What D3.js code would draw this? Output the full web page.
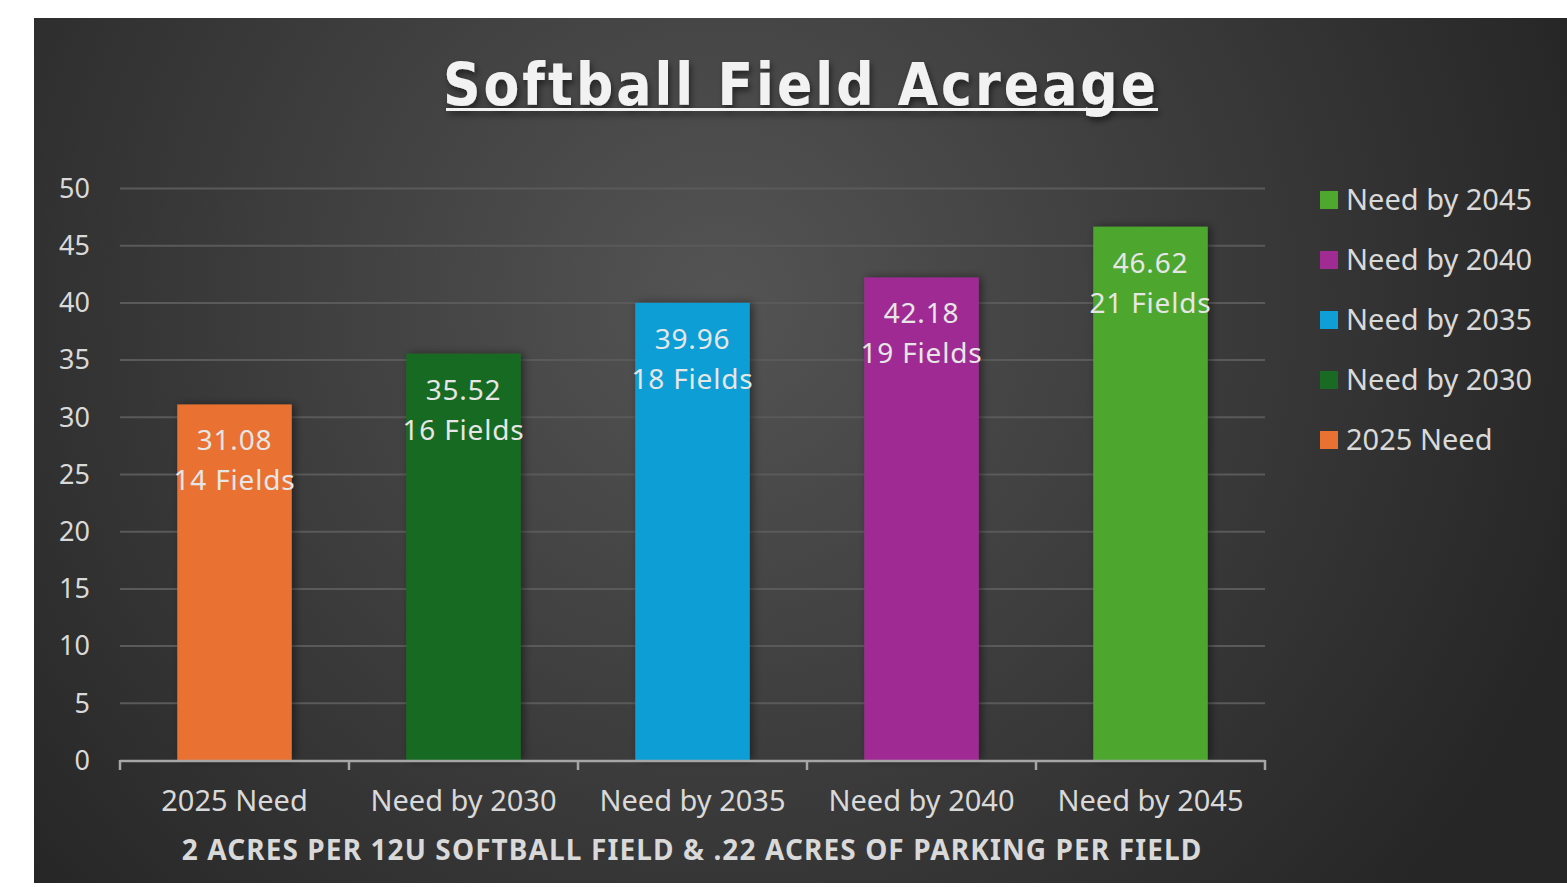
<!DOCTYPE html>
<html>
<head>
<meta charset="utf-8">
<script src="https://cdn.jsdelivr.net/npm/d3@7"></script>
<style>
  body { margin: 0; background: #ffffff; }
  svg { display: block; }
  text { font-family: "Noto Sans", "Open Sans", sans-serif; }
</style>
</head>
<body>
<div id="chart"></div>
<script>
// chart data
const categories = ["2025 Need", "Need by 2030", "Need by 2035", "Need by 2040", "Need by 2045"];
const acres = [31.08, 35.52, 39.96, 42.18, 46.62];
const fields = ["14 Fields", "16 Fields", "18 Fields", "19 Fields", "21 Fields"];
const barColors = ["#E97132", "#196B24", "#0F9ED5", "#A02B93", "#4EA72E"];
const yTicks = [0, 5, 10, 15, 20, 25, 30, 35, 40, 45, 50];

const W = 1567, H = 887;
const svg = d3.select("#chart").append("svg")
    .attr("width", W)
    .attr("height", H);

const defs = svg.append("defs");
const grad = defs.append("radialGradient")
    .attr("id", "bg")
    .attr("gradientUnits", "userSpaceOnUse")
    .attr("cx", 720).attr("cy", 300).attr("r", 900);
grad.append("stop").attr("offset", "0%").attr("stop-color", "#545454");
grad.append("stop").attr("offset", "100%").attr("stop-color", "#262626");

const shadow = defs.append("filter").attr("id", "shadow")
    .attr("x", "-20%").attr("y", "-20%").attr("width", "140%").attr("height", "140%");
shadow.append("feDropShadow")
    .attr("dx", 3).attr("dy", 0).attr("stdDeviation", 4)
    .attr("flood-color", "#000").attr("flood-opacity", 0.45);

const tshadow = defs.append("filter").attr("id", "tshadow")
    .attr("x", "-10%").attr("y", "-30%").attr("width", "120%").attr("height", "160%");
tshadow.append("feDropShadow")
    .attr("dx", 2).attr("dy", 4).attr("stdDeviation", 3)
    .attr("flood-color", "#000").attr("flood-opacity", 0.5);

// panel
svg.append("rect")
    .attr("x", 34).attr("y", 18)
    .attr("width", W - 34).attr("height", 865)
    .attr("fill", "url(#bg)");

// title
const title = svg.append("g").attr("filter", "url(#tshadow)");
title.append("text")
    .attr("x", 801).attr("y", 105)
    .attr("text-anchor", "middle")
    .attr("fill", "#f2f2f2")
    .style("font-family", "'DejaVu Sans Condensed', 'DejaVu Sans', sans-serif")
    .style("font-weight", "bold")
    .style("font-size", "58px")
    .style("letter-spacing", "3px")
    .text("Softball Field Acreage");
title.append("rect")
    .attr("x", 446).attr("y", 108)
    .attr("width", 712).attr("height", 3)
    .attr("fill", "#f2f2f2");

const margin = {top: 188, left: 120, right: W - 1265, bottom: H - 760};
const x = d3.scaleBand()
    .domain(categories)
    .range([margin.left, W - margin.right])
    .paddingInner(0.5)
    .paddingOuter(0.25);
const y = d3.scaleLinear()
    .domain([0, 50])
    .range([760, 188]);

// gridlines
svg.append("g")
    .attr("transform", "translate(" + margin.left + ",0)")
    .call(d3.axisLeft(y).tickValues(yTicks.slice(1)).tickSize(-(1265 - margin.left)).tickFormat(""))
    .call(g => g.select(".domain").remove())
    .call(g => g.selectAll("line").attr("stroke", "#5a5a5a").attr("stroke-width", 2));

// y tick labels
svg.append("g")
    .selectAll("text")
    .data(yTicks)
    .join("text")
    .attr("x", 90)
    .attr("y", d => y(d))
    .attr("dy", "0.36em")
    .attr("text-anchor", "end")
    .attr("fill", "#d9d9d9")
    .style("font-size", "27px")
    .text(d => d);

// bars
svg.append("g")
    .attr("filter", "url(#shadow)")
    .selectAll("rect")
    .data(acres)
    .join("rect")
    .attr("x", (d, i) => x(categories[i]))
    .attr("y", d => y(d))
    .attr("width", x.bandwidth())
    .attr("height", d => y(0) - y(d))
    .attr("fill", (d, i) => barColors[i]);

// x axis with band-boundary ticks
const bounds = d3.range(categories.length + 1).map(i => margin.left + i * (1265 - margin.left) / categories.length);
const xAxis = svg.append("g");
xAxis.append("line")
    .attr("x1", margin.left).attr("x2", 1265)
    .attr("y1", 761).attr("y2", 761)
    .attr("stroke", "#a6a6a6").attr("stroke-width", 2.5);
xAxis.selectAll(".tk")
    .data(bounds)
    .join("line")
    .attr("class", "tk")
    .attr("x1", d => d).attr("x2", d => d)
    .attr("y1", 760).attr("y2", 770)
    .attr("stroke", "#a6a6a6").attr("stroke-width", 2.5);

xAxis.selectAll(".lbl")
    .data(categories)
    .join("text")
    .attr("class", "lbl")
    .attr("x", d => x(d) + x.bandwidth() / 2)
    .attr("y", 811)
    .attr("text-anchor", "middle")
    .attr("fill", "#d9d9d9")
    .style("font-size", "29px")
    .text(d => d);

// axis title
svg.append("text")
    .attr("x", 692).attr("y", 860)
    .attr("text-anchor", "middle")
    .attr("fill", "#d9d9d9")
    .style("font-weight", "bold")
    .style("font-size", "28px")
    .style("letter-spacing", "1.1px")
    .text("2 ACRES PER 12U SOFTBALL FIELD & .22 ACRES OF PARKING PER FIELD");

// data labels
const lbls = svg.append("g").selectAll("g")
    .data(acres)
    .join("g")
    .attr("transform", (d, i) => "translate(" + (x(categories[i]) + x.bandwidth() / 2) + "," + y(d) + ")");
lbls.append("text")
    .attr("y", 46)
    .attr("text-anchor", "middle")
    .attr("fill", "#e6e6e6")
    .style("font-size", "28px")
    .style("letter-spacing", "0.8px")
    .text(d => d.toFixed(2));
lbls.append("text")
    .attr("y", 86)
    .attr("text-anchor", "middle")
    .attr("fill", "#e6e6e6")
    .style("font-size", "28px")
    .style("letter-spacing", "0.8px")
    .text((d, i) => fields[i]);

// legend (reverse order)
const legendItems = categories.map((c, i) => ({name: c, color: barColors[i]})).reverse();
const legend = svg.append("g")
    .selectAll("g")
    .data(legendItems)
    .join("g")
    .attr("transform", (d, i) => "translate(1320," + (200 + i * 60) + ")");
legend.append("rect")
    .attr("x", 0).attr("y", -9)
    .attr("width", 18).attr("height", 18)
    .attr("fill", d => d.color);
legend.append("text")
    .attr("x", 26)
    .attr("dy", "0.36em")
    .attr("fill", "#d9d9d9")
    .style("font-size", "29px")
    .text(d => d.name);
</script>
</body>
</html>
